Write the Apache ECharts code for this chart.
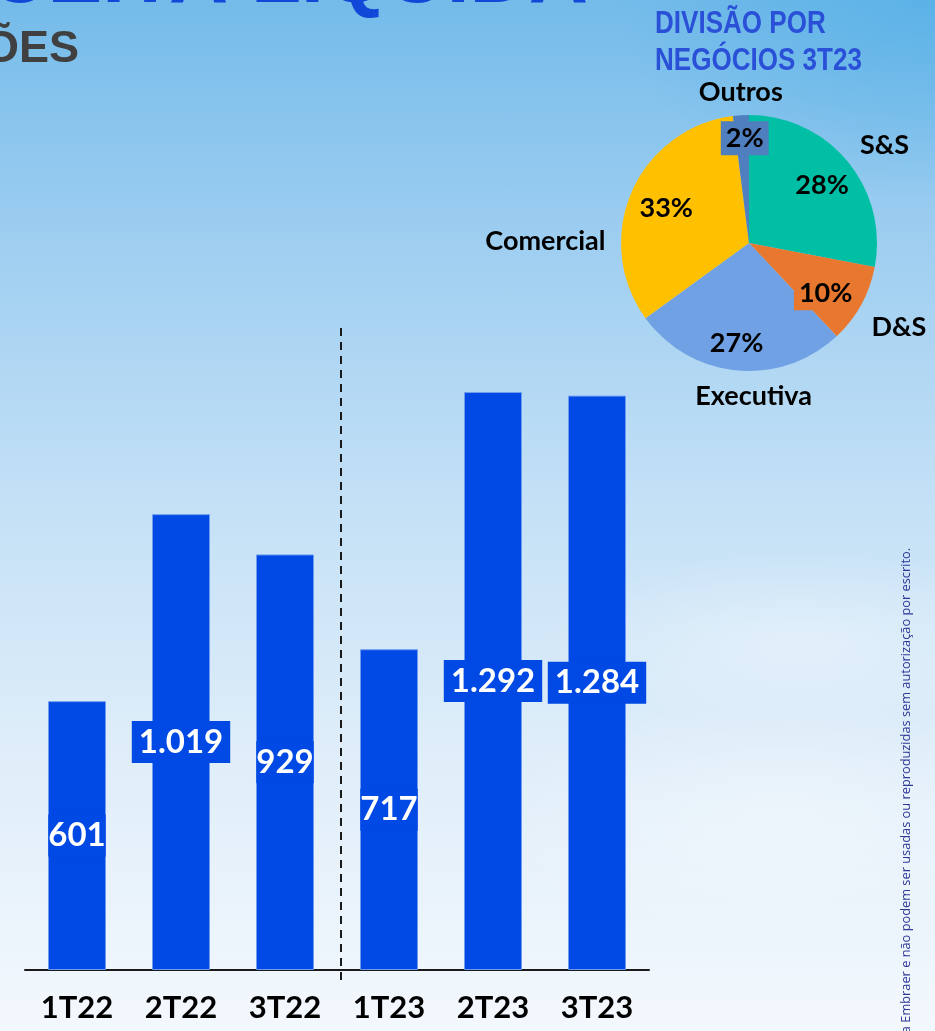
<!DOCTYPE html>
<html>
<head>
<meta charset="utf-8">
<script src="https://cdn.jsdelivr.net/npm/echarts@6/dist/echarts.min.js"></script>
<style>
  html, body { margin: 0; padding: 0; }
  body {
    width: 935px; height: 1031px; overflow: hidden;
    background:
      radial-gradient(ellipse 260px 90px at 800px 640px, rgba(255,255,255,0.35), rgba(255,255,255,0) 100%),
      radial-gradient(ellipse 300px 120px at 780px 820px, rgba(255,255,255,0.35), rgba(255,255,255,0) 100%),
      radial-gradient(ellipse 320px 200px at 935px 0px, rgba(70,170,228,0.55), rgba(70,170,228,0) 100%),
      linear-gradient(180deg, #74bbea 0%, #9ccdf0 22%, #c3e0f6 48%, #deedf9 72%, #f3f8fd 100%);
  }
  #chart { width: 935px; height: 1031px; }
</style>
</head>
<body>
<div id="chart"></div>
<script>
// receita líquida por trimestre (R$ milhões)
const quarters = ["1T22", "2T22", "3T22", "1T23", "2T23", "3T23"];
const revenue = [601, 1019, 929, 717, 1292, 1284];

// divisão por negócios 3T23 (%)
const segments = ["S&S", "D&S", "Executiva", "Comercial", "Outros"];
const shares = [28, 10, 27, 33, 2];

const barColor = "#0049e4";
const sliceColors = ["#00bfa5", "#e8782f", "#70a1e4", "#ffc000", "#4f7fbf"];
// label nudges [dx, dy] px
const nameShift = [[10, 6], [7, 6], [20, -9], [-54, 63], [2, 12]];
const pctShift = [[-4, 6], [-11, 2], [-3, 1], [9, 5], [2, -5]];

const font = 'Lato, "Open Sans", sans-serif';
const grid = { left: 25, right: 286, top: 299, bottom: 61 };

// 1019 -> "1.019"
const ptBR = (v) => String(v).replace(/\B(?=(\d{3})+(?!\d))/g, ".");

const chartInit = echarts.init(document.getElementById("chart"));

const slices = segments.map((n, i) => ({
  name: n,
  value: shares[i],
  itemStyle: { color: sliceColors[i] },
}));

// small slices get a boxed label
const pctSlices = segments.map((n, i) => ({
  name: n,
  value: shares[i],
  itemStyle: { color: "transparent" },
  label: shares[i] < 15 ? { backgroundColor: sliceColors[i], padding: [3, 5] } : {},
}));

const nameSlices = segments.map((n, i) => ({
  name: n,
  value: shares[i],
  itemStyle: { color: "transparent" },
}));

const barData = revenue.map((v) => ({
  value: v,
  label: { padding: v >= 1000 ? [5, 7] : [5, 0] },
}));

// linha tracejada entre 2022 e 2023 (fronteira das categorias 3 e 4)
const plotW = 935 - grid.left - grid.right;
const xMid = grid.left + (plotW / quarters.length) * 3 + 4;

let option = {
  animation: false,
  grid: grid,
  xAxis: {
    type: "category",
    data: quarters,
    axisTick: { show: false },
    axisLine: { lineStyle: { color: "#1a1a1a", width: 2 } },
    axisLabel: {
      color: "#000",
      fontSize: 31,
      fontWeight: "bold",
      fontFamily: font,
      margin: 22,
    },
  },
  yAxis: { type: "value", min: 0, max: 1500, show: false },
  graphic: [
    {
      type: "text",
      x: 588, y: -21,
      style: {
        text: "RECEITA LÍQUIDA",
        fill: "#1248d8",
        font: 'bold 82px "Liberation Sans", Arial, sans-serif',
        textAlign: "right",
        textVerticalAlign: "middle",
      },
    },
    {
      type: "text",
      x: -16, y: 50,
      style: {
        text: "ÕES",
        fill: "#404040",
        font: 'bold 45px "Liberation Sans", Arial, sans-serif',
        textVerticalAlign: "middle",
      },
    },
    {
      type: "text",
      x: 655, y: 43,
      scaleX: 0.84,
      style: {
        text: "DIVISÃO POR\nNEGÓCIOS 3T23",
        fill: "#2a50d8",
        font: 'bold 31px "Liberation Sans", Arial, sans-serif',
        lineHeight: 37,
        textVerticalAlign: "middle",
      },
    },
    {
      type: "text",
      x: 906, y: 548,
      rotation: Math.PI / 2,
      style: {
        text: "a Embraer e não podem ser usadas ou reproduzidas sem autorização por escrito.",
        fill: "#2c3796",
        font: '12.8px "Open Sans", "Noto Sans", sans-serif',
        textAlign: "right",
        textVerticalAlign: "middle",
      },
    },
    {
      type: "line",
      shape: { x1: xMid, y1: 328, x2: xMid, y2: 985 },
      style: { stroke: "#1a1a1a", lineWidth: 2, lineDash: [8, 6] },
      silent: true,
    },
  ],
  series: [
    {
      type: "bar",
      data: barData,
      barWidth: 58,
      itemStyle: { color: barColor, borderColor: "#6f9cf0", borderWidth: 1 },
      label: {
        show: true,
        position: "inside",
        formatter: (p) => ptBR(p.value),
        color: "#fff",
        fontSize: 33,
        fontWeight: "bold",
        fontFamily: font,
        lineHeight: 32,
        backgroundColor: barColor,
      },
      silent: true,
    },
    {
      type: "pie",
      center: [749, 243],
      radius: [0, 128],
      startAngle: 90,
      clockwise: true,
      data: slices,
      label: { show: false },
      labelLine: { show: false },
      silent: true,
    },
    {
      type: "pie",
      center: [749, 243],
      radius: [70, 124],
      startAngle: 90,
      data: pctSlices,
      label: {
        show: true,
        position: "inside",
        formatter: "{c}%",
        color: "#000",
        fontSize: 27,
        fontWeight: "bold",
        fontFamily: font,
        lineHeight: 28,
      },
      labelLine: { show: false },
      labelLayout: (p) => ({
        dx: pctShift[p.dataIndex][0],
        dy: pctShift[p.dataIndex][1],
        hideOverlap: false,
      }),
      silent: true,
    },
    {
      type: "pie",
      center: [749, 243],
      radius: [140, 180],
      startAngle: 90,
      data: nameSlices,
      label: {
        show: true,
        position: "inside",
        formatter: "{b}",
        color: "#000",
        fontSize: 27,
        fontWeight: "bold",
        fontFamily: font,
      },
      labelLine: { show: false },
      labelLayout: (p) => ({
        dx: nameShift[p.dataIndex][0],
        dy: nameShift[p.dataIndex][1],
        hideOverlap: false,
      }),
      silent: true,
    },
  ],
};
chartInit.setOption(option, true);
</script>
</body>
</html>
